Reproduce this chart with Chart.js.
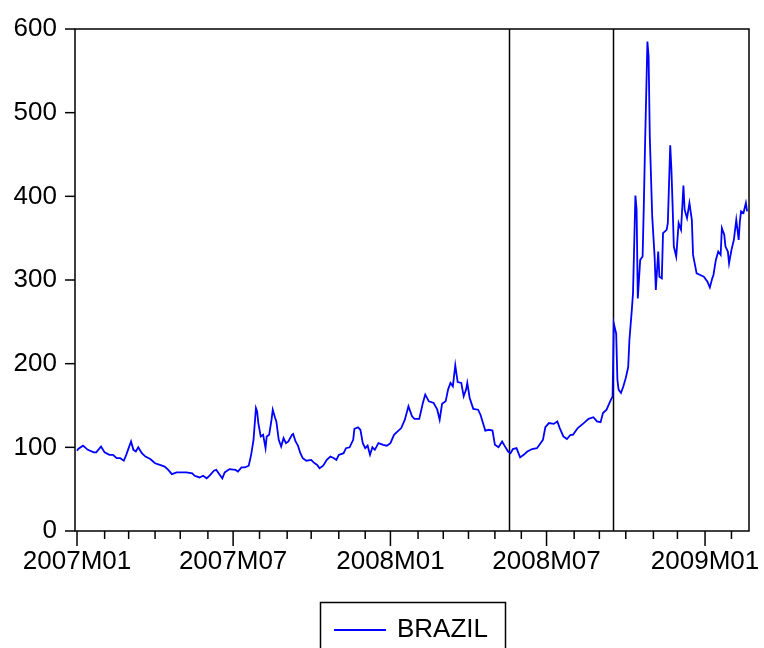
<!DOCTYPE html>
<html>
<head>
<meta charset="utf-8">
<script src="https://cdn.jsdelivr.net/npm/chart.js@4.4.1/dist/chart.umd.min.js"></script>
<style>
html,body{margin:0;padding:0;background:#ffffff;}
#wrap{width:764px;height:648px;position:relative;}
</style>
</head>
<body>
<div id="wrap"><canvas id="c" width="764" height="648"></canvas></div>
<script>
// Observation position: business-day index (5-day week), 0 = 2007-01-01
const obsDay = [0,1,5,9,14,16,20,23,27,30,33,36,39,41,43,45,47,49,51,54,57,61,65,69,73,76,79,83,87,91,96,98,102,105,108,111,114,116,119,121,123,127,132,134,137,140,143,145,147,149,150,151,153,155,157,158,160,162,163,165,166,168,170,172,174,176,179,180,182,184,186,188,191,195,197,200,202,205,208,211,214,216,218,222,224,227,230,231,234,236,238,240,242,244,246,248,251,255,258,261,264,267,270,273,276,279,281,285,288,290,293,297,300,302,304,307,309,311,313,315,317,320,322,324,325,327,330,334,336,340,343,346,348,351,354,356,359,361,363,366,369,372,375,379,383,386,388,390,393,397,400,402,405,408,411,413,417,422,426,430,433,436,438,441,444,446,447,449,450,451,453,455,457,459,460,462,463,465,466,467,469,471,472,473,475,476,477,479,481,482,484,485,487,488,491,492,494,495,496,497,499,501,503,505,506,508,510,512,513,516,519,522,525,527,529,530,532,534,536,537,539,540,542,543,545,547,549,551,552,553,555,557,558];
// BRAZIL series values
const brazil = [96,98,102,97,94,94,101,94,91,91,87,87,84,91,99,107,97,95,100,93,89,86,81,79,77,73,68,70,70,70,69,66,64,66,63,67,72,73,67,63,70,74,73,71,76,76,78,91,109,147,143,129,113,115,99,113,115,133,145,135,131,109,101,111,105,107,115,116,107,102,93,87,84,85,82,79,75,78,85,89,87,85,91,93,99,100,109,122,124,121,105,99,102,91,100,97,105,103,102,105,115,119,123,133,149,137,134,134,153,163,155,153,145,133,152,155,169,177,173,198,178,177,161,169,177,159,146,145,139,120,121,120,103,100,107,102,95,93,98,99,88,91,95,98,99,105,109,124,129,128,131,123,113,110,115,115,123,129,134,136,131,130,141,145,155,161,248,236,181,169,165,173,183,196,228,264,284,401,384,278,324,328,388,459,585,567,471,376,328,288,334,304,302,356,360,368,461,432,388,340,328,368,360,413,384,374,392,372,330,308,306,304,298,291,302,306,324,334,330,362,354,340,334,320,336,348,372,348,370,382,380,392,382];

// Month starts (business-day index) for tick marks
const monthStarts = [0,23,43,65,86,109,130,152,175,195,218,240,261,284,305,326,348,370,391,414,435,457,480,500,523,545];
// Labelled ticks
const majorDays = [0,130,261,391,523];
const majorLabels = ['2007M01','2007M07','2008M01','2008M07','2009M01'];
// Vertical event lines (business-day index)
const eventDays = [360,446.5];
// Y axis ticks
const yTicks = [0,100,200,300,400,500,600];
const seriesName = 'BRAZIL';

const FONT = "'Liberation Sans', Arial, sans-serif";

const decor = {
  id: 'decor',
  beforeDatasetsDraw(chart) {
    const ctx = chart.ctx, a = chart.chartArea, xs = chart.scales.x;
    ctx.save();
    ctx.strokeStyle = '#000';
    ctx.lineWidth = 1.5;
    eventDays.forEach(d => {
      const px = Math.round(xs.getPixelForValue(d)) + 0.5;
      ctx.beginPath(); ctx.moveTo(px, a.top); ctx.lineTo(px, a.bottom); ctx.stroke();
    });
    ctx.restore();
  },
  afterDraw(chart) {
    const ctx = chart.ctx, a = chart.chartArea, xs = chart.scales.x, ys = chart.scales.y;
    ctx.save();
    ctx.strokeStyle = '#000';
    ctx.lineWidth = 1.5;
    ctx.strokeRect(a.left, a.top, a.right - a.left, a.bottom - a.top);
    // y ticks
    yTicks.forEach(v => {
      const py = ys.getPixelForValue(v);
      ctx.beginPath(); ctx.moveTo(a.left - 10, py); ctx.lineTo(a.left, py); ctx.stroke();
    });
    // x ticks
    monthStarts.forEach(d => {
      const px = xs.getPixelForValue(d);
      const len = majorDays.includes(d) ? 15 : 8;
      ctx.beginPath(); ctx.moveTo(px, a.bottom); ctx.lineTo(px, a.bottom + len); ctx.stroke();
    });
    // legend box
    const ds = chart.data.datasets[0];
    ctx.lineWidth = 1.5;
    ctx.strokeRect(320.5, 602.5, 185, 60);
    ctx.strokeStyle = ds.borderColor;
    ctx.lineWidth = 1.8;
    ctx.beginPath(); ctx.moveTo(334, 630); ctx.lineTo(386, 630); ctx.stroke();
    ctx.fillStyle = '#000';
    ctx.font = '26px ' + FONT;
    ctx.textAlign = 'left';
    ctx.textBaseline = 'middle';
    ctx.fillText(ds.label, 397, 630);
    ctx.restore();
  }
};

new Chart(document.getElementById('c'), {
  type: 'line',
  data: {
    datasets: [{
      label: seriesName,
      data: obsDay.map((d, i) => ({x: d, y: brazil[i]})),
      borderColor: '#0000ff',
      borderWidth: 1.8,
      pointRadius: 0,
      tension: 0,
      fill: false
    }]
  },
  options: {
    responsive: false,
    animation: false,
    devicePixelRatio: 1,
    layout: {padding: {top: 29, right: 15, left: 0, bottom: 0}},
    plugins: {legend: {display: false}, tooltip: {enabled: false}},
    scales: {
      x: {
        type: 'linear',
        min: -1.67,
        max: 559.6,
        afterBuildTicks: s => { s.ticks = majorDays.map(v => ({value: v})); },
        afterFit: s => { s.height = 117; s.paddingLeft = 0; s.paddingRight = 0; },
        grid: {display: false},
        border: {display: false},
        ticks: {
          autoSkip: false,
          maxRotation: 0,
          padding: 7,
          color: '#000',
          font: {family: FONT, size: 26},
          callback: v => { const i = majorDays.indexOf(v); return i >= 0 ? majorLabels[i] : ''; }
        }
      },
      y: {
        min: 0,
        max: 600,
        afterBuildTicks: s => { s.ticks = yTicks.map(v => ({value: v})); },
        afterFit: s => { s.width = 75; s.paddingTop = 0; s.paddingBottom = 0; },
        grid: {display: false},
        border: {display: false},
        ticks: {
          padding: 10,
          color: '#000',
          font: {family: FONT, size: 26}
        }
      }
    }
  },
  plugins: [decor]
});
</script>
</body>
</html>
